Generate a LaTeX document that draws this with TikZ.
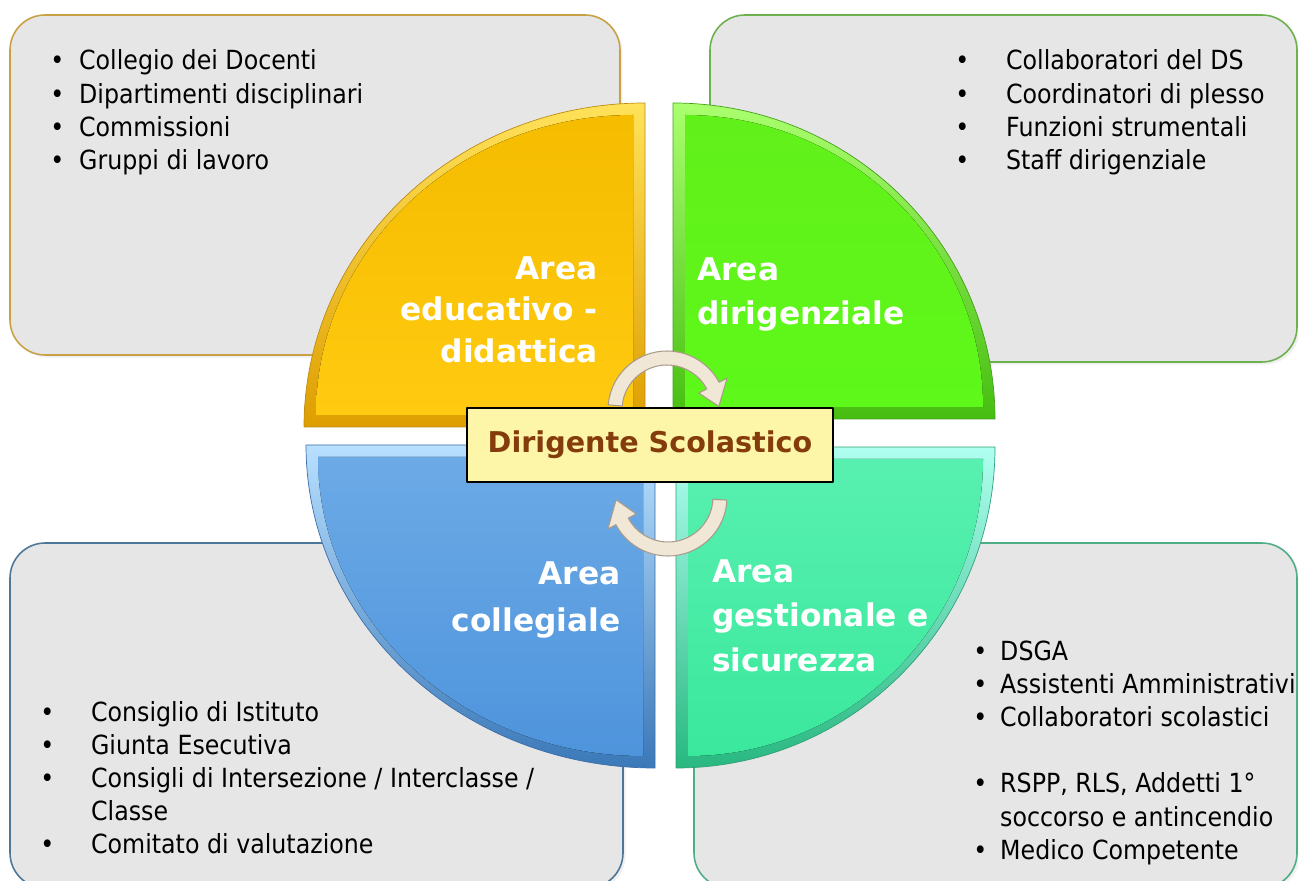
\documentclass[tikz,border=0pt]{standalone}
\usepackage{fontspec}
\setmainfont{DejaVu Sans}
\newfontfamily\itemfont[FakeStretch=0.9]{DejaVu Sans}
\usetikzlibrary{shadows}
\definecolor{boxgray}{HTML}{E6E6E6}
\definecolor{edugold}{HTML}{C9A044}
\definecolor{dirgreen}{HTML}{6DB04E}
\definecolor{colblue}{HTML}{4D7799}
\definecolor{gesteal}{HTML}{4FAE86}
\definecolor{dsyellow}{HTML}{FDF6A8}
\definecolor{dsbrown}{HTML}{843C0C}
\definecolor{arrowbeige}{HTML}{F1E7D7}
\definecolor{arrowedge}{HTML}{A99B89}
\begin{document}
\begin{tikzpicture}[x=0.02cm, y=0.02cm, line join=round,
    listbox/.style={rounded corners=20pt, fill=boxgray, line width=0.9pt,
        drop shadow={opacity=0.12, shadow xshift=1.5pt, shadow yshift=-1.5pt}},
    listtext/.style={anchor=base west, inner sep=0pt,
        font=\itemfont\fontsize{15}{18.9}\selectfont},
    areatext/.style={inner sep=0pt, text=white,
        font=\fontsize{17.8}{#1}\selectfont\bfseries},
    arrowband/.style={fill=arrowbeige, draw=arrowedge, line width=0.6pt}]
\useasboundingbox (0,0) rectangle (1298,-881);
\clip (0,0) rectangle (1298,-881);

% boxes behind the circle
\draw[listbox, draw=edugold] (10,-15) rectangle (620,-355);
\draw[listbox, draw=dirgreen] (710,-15) rectangle (1297,-362);
\draw[listbox, draw=colblue] (10,-543) rectangle (623,-888);
\draw[listbox, draw=gesteal] (694,-543) rectangle (1297,-888);

% four quarters
\draw[top color={rgb,255:red,255;green,226;blue,90}, bottom color={rgb,255:red,222;green,158;blue,0},
  draw={rgb,255:red,190;green,140;blue,20}]
  (645,-427) -- (304,-427) arc[start angle=180, end angle=90, x radius=341, y radius=324] -- cycle;
\fill[top color={rgb,255:red,245;green,188;blue,0}, bottom color={rgb,255:red,255;green,202;blue,16}]
  (633,-415) -- (316,-415) arc[start angle=180, end angle=90, x radius=317, y radius=300] -- cycle;

\draw[top color={rgb,255:red,170;green,255;blue,110}, bottom color={rgb,255:red,70;green,190;blue,16},
  draw={rgb,255:red,70;green,160;blue,30}]
  (673,-419) -- (673,-103) arc[start angle=90, end angle=0, x radius=322, y radius=316] -- cycle;
\fill[top color={rgb,255:red,98;green,240;blue,26}, bottom color={rgb,255:red,94;green,248;blue,26}]
  (685,-407) -- (685,-115) arc[start angle=90, end angle=0, x radius=298, y radius=292] -- cycle;

\draw[top color={rgb,255:red,184;green,224;blue,255}, bottom color={rgb,255:red,58;green,120;blue,184},
  draw={rgb,255:red,60;green,110;blue,170}]
  (655,-445) -- (306,-445) arc[start angle=180, end angle=270, x radius=349, y radius=323] -- cycle;
\fill[top color={rgb,255:red,108;green,170;blue,230}, bottom color={rgb,255:red,78;green,148;blue,220}]
  (643,-457) -- (318,-457) arc[start angle=180, end angle=270, x radius=325, y radius=299] -- cycle;

\draw[top color={rgb,255:red,176;green,255;blue,240}, bottom color={rgb,255:red,40;green,184;blue,128},
  draw={rgb,255:red,50;green,160;blue,120}]
  (676,-447) -- (995,-447) arc[start angle=0, end angle=-90, x radius=319, y radius=321] -- cycle;
\fill[top color={rgb,255:red,88;green,240;blue,176}, bottom color={rgb,255:red,58;green,232;blue,156}]
  (688,-459) -- (983,-459) arc[start angle=0, end angle=-90, x radius=295, y radius=297] -- cycle;

% labels of the quarters
\node[areatext=23.8pt, anchor=north east, align=right] (edu) at (598,-256)
  {Area\\educativo -\\didattica};
\node[areatext=25pt, anchor=north west, align=left] (dir) at (697,-257)
  {Area\\dirigenziale};
\node[areatext=27.2pt, anchor=north east, align=right] (col) at (621,-561)
  {Area\\collegiale};
\node[areatext=25.5pt, anchor=north west, align=left] (ges) at (712,-559)
  {Area\\gestionale e\\sicurezza};

% round arrows
\begin{scope}[shift={(667,-410)}]
  \draw[arrowband] (175:45) arc[start angle=175, end angle=28, radius=45] -- (28:36)
    -- (4:52) -- (28:68) -- (28:59) arc[start angle=28, end angle=175, radius=59] -- cycle;
\end{scope}
\begin{scope}[shift={(668,-497)}]
  \draw[arrowband] (-3:45) arc[start angle=-3, end angle=-152, radius=45] -- (-152:36)
    -- (-177:52) -- (-152:68) -- (-152:59) arc[start angle=-152, end angle=-3, radius=59] -- cycle;
\end{scope}

\node[draw=black, fill=dsyellow, line width=0.8pt, minimum width=7.32cm, minimum height=1.48cm,
  text=dsbrown, font=\fontsize{16.3}{20}\selectfont\bfseries] (ds) at (650,-445) {Dirigente Scolastico};

% lists
\node[listtext] (edulist) at (50,-70) {\begin{tabular}[t]{@{}p{16.4pt}@{}l@{}}
\textbullet & Collegio dei Docenti\\
\textbullet & Dipartimenti disciplinari\\
\textbullet & Commissioni\\
\textbullet & Gruppi di lavoro
\end{tabular}};
\node[listtext] (dirlist) at (955,-70) {\begin{tabular}[t]{@{}p{28.9pt}@{}l@{}}
\textbullet & Collaboratori del DS\\
\textbullet & Coordinatori di plesso\\
\textbullet & Funzioni strumentali\\
\textbullet & Staff dirigenziale
\end{tabular}};
\node[listtext] (collist) at (40,-721) {\begin{tabular}[t]{@{}p{28.9pt}@{}l@{}}
\textbullet & Consiglio di Istituto\\
\textbullet & Giunta Esecutiva\\
\textbullet & Consigli di Intersezione / Interclasse /\\
 & Classe\\
\textbullet & Comitato di valutazione
\end{tabular}};
\node[listtext] (geslist) at (973,-660) {\begin{tabular}[t]{@{}p{15.3pt}@{}l@{}}
\textbullet & DSGA\\
\textbullet & Assistenti Amministrativi\\
\textbullet & Collaboratori scolastici\\
 & \\
\textbullet & RSPP, RLS, Addetti 1°\\
 & soccorso e antincendio\\
\textbullet & Medico Competente
\end{tabular}};
\end{tikzpicture}
\end{document}
